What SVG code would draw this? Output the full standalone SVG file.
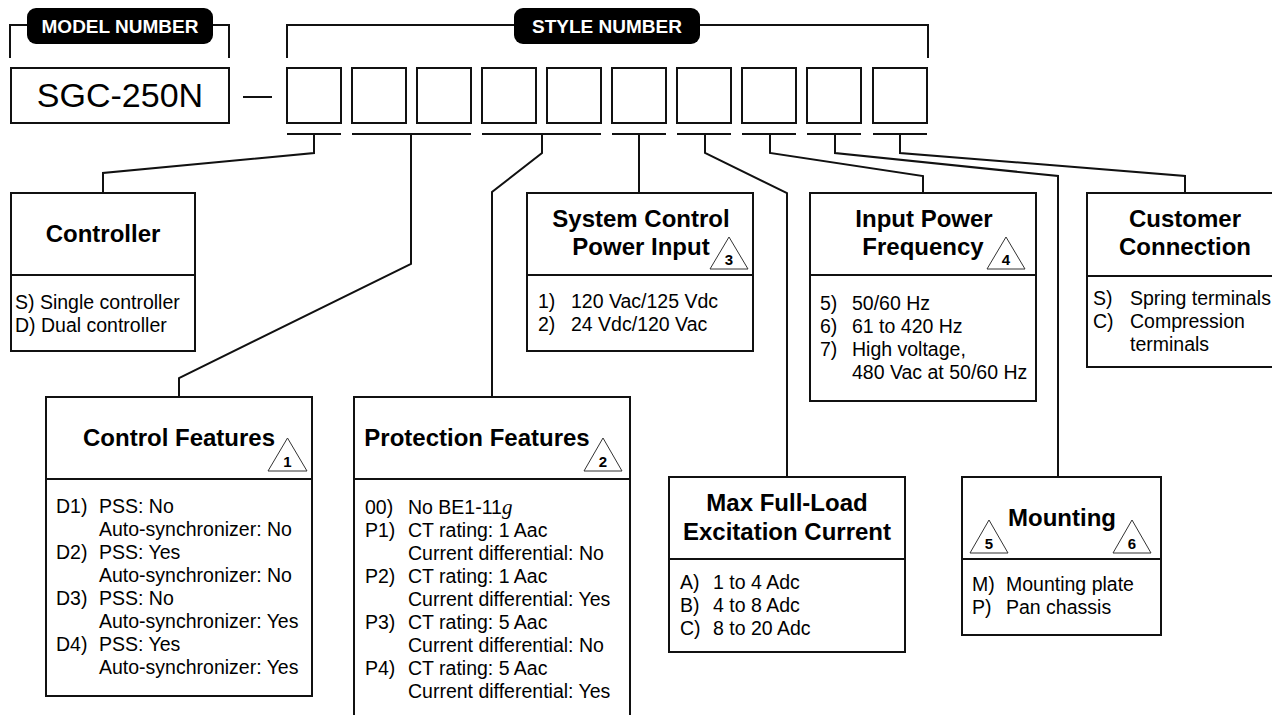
<svg xmlns="http://www.w3.org/2000/svg" width="1272" height="715" viewBox="0 0 1272 715">
<style>
.bx{fill:#fff;stroke:#111;stroke-width:2}
.ln{fill:none;stroke:#111;stroke-width:2}
.tri{fill:#fff;stroke:#333;stroke-width:1}
.pill{fill:#000}
.pt{font-family:"Liberation Sans",Arial,sans-serif;font-weight:bold;font-size:19px;fill:#fff;text-anchor:middle}
.ttl{font-family:"Liberation Sans",Arial,sans-serif;font-weight:bold;font-size:24px;fill:#000;text-anchor:middle}
.it{font-family:"Liberation Sans",Arial,sans-serif;font-size:19.5px;fill:#000}
.num{font-family:"Liberation Sans",Arial,sans-serif;font-weight:bold;font-size:15px;fill:#000;text-anchor:middle}
.big{font-family:"Liberation Sans",Arial,sans-serif;font-size:34px;fill:#000;text-anchor:middle}
</style>
<rect width="1272" height="715" fill="#fff"/>

<g id="model-number">
  <path class="ln" d="M10,58 V25 H30 M210,25 H229 V58"/>
  <rect class="pill" x="27" y="8" width="186" height="36" rx="9"/>
  <text class="pt" x="120" y="33">MODEL NUMBER</text>
  <rect class="bx" x="11" y="68" width="218" height="55"/>
  <text class="big" x="120" y="107">SGC-250N</text>
  <line class="ln" x1="243" y1="97" x2="272" y2="97"/>
</g>

<g id="style-number">
  <path class="ln" d="M287,58 V25 H520 M695,25 H928 V58"/>
  <rect class="pill" x="514" y="8" width="186" height="36" rx="9"/>
  <text class="pt" x="607" y="33">STYLE NUMBER</text>
  <rect class="bx" x="287" y="68" width="54" height="55"/>
  <rect class="bx" x="352" y="68" width="54" height="55"/>
  <rect class="bx" x="417" y="68" width="54" height="55"/>
  <rect class="bx" x="482" y="68" width="54" height="55"/>
  <rect class="bx" x="547" y="68" width="54" height="55"/>
  <rect class="bx" x="612" y="68" width="54" height="55"/>
  <rect class="bx" x="677" y="68" width="54" height="55"/>
  <rect class="bx" x="742" y="68" width="54" height="55"/>
  <rect class="bx" x="807" y="68" width="54" height="55"/>
  <rect class="bx" x="873" y="68" width="54" height="55"/>
  <path class="ln" d="M287,134 H341 M352,134 H471 M482,134 H601 M612,134 H666 M677,134 H731 M742,134 H796 M807,134 H861 M873,134 H927"/>
</g>

<g id="connectors">
  <path class="ln" d="M314,134 V153 L103,173 V193"/>
  <path class="ln" d="M411,134 V264 L179,378 V397"/>
  <path class="ln" d="M542,134 V153 L492,192 V397"/>
  <path class="ln" d="M639,134 V193"/>
  <path class="ln" d="M705,134 V153 L787,193 V477"/>
  <path class="ln" d="M770,134 V153 L923,176 V193"/>
  <path class="ln" d="M835,134 V153 L1058,176 V477"/>
  <path class="ln" d="M900,134 V153 L1185,176 V193"/>
</g>

<g id="controller">
  <rect class="bx" x="11" y="193" width="184" height="158"/>
  <line class="ln" x1="11" y1="275" x2="195" y2="275"/>
  <text class="ttl" x="103" y="242">Controller</text>
  <text class="it" x="15" y="309">S) Single controller</text>
  <text class="it" x="15" y="332">D) Dual controller</text>
</g>

<g id="control-features">
  <rect class="bx" x="46" y="397" width="266" height="299"/>
  <line class="ln" x1="46" y1="479" x2="312" y2="479"/>
  <text class="ttl" x="179" y="446">Control Features</text>
  <polygon class="tri" points="268,471 287.5,438 307,471"/>
  <text class="num" x="287.5" y="467">1</text>
  <g class="it">
    <text x="56" y="513">D1)</text><text x="99" y="513">PSS: No</text>
    <text x="99" y="536">Auto-synchronizer: No</text>
    <text x="56" y="559">D2)</text><text x="99" y="559">PSS: Yes</text>
    <text x="99" y="582">Auto-synchronizer: No</text>
    <text x="56" y="605">D3)</text><text x="99" y="605">PSS: No</text>
    <text x="99" y="628">Auto-synchronizer: Yes</text>
    <text x="56" y="651">D4)</text><text x="99" y="651">PSS: Yes</text>
    <text x="99" y="674">Auto-synchronizer: Yes</text>
  </g>
</g>

<g id="protection-features">
  <rect class="bx" x="354" y="397" width="276" height="330"/>
  <line class="ln" x1="354" y1="479" x2="630" y2="479"/>
  <text class="ttl" x="477" y="446">Protection Features</text>
  <polygon class="tri" points="584,471 603,438 622,471"/>
  <text class="num" x="603" y="467">2</text>
  <g class="it">
    <text x="365" y="514">00)</text><text x="408" y="514">No BE1-11<tspan font-family="'Liberation Serif',serif" font-style="italic" font-size="21px">g</tspan></text>
    <text x="365" y="537">P1)</text><text x="408" y="537">CT rating: 1 Aac</text>
    <text x="408" y="560">Current differential: No</text>
    <text x="365" y="583">P2)</text><text x="408" y="583">CT rating: 1 Aac</text>
    <text x="408" y="606">Current differential: Yes</text>
    <text x="365" y="629">P3)</text><text x="408" y="629">CT rating: 5 Aac</text>
    <text x="408" y="652">Current differential: No</text>
    <text x="365" y="675">P4)</text><text x="408" y="675">CT rating: 5 Aac</text>
    <text x="408" y="698">Current differential: Yes</text>
  </g>
</g>

<g id="system-control-power-input">
  <rect class="bx" x="527" y="193" width="226" height="158"/>
  <line class="ln" x1="527" y1="275" x2="753" y2="275"/>
  <text class="ttl" x="641" y="227">System Control</text>
  <text class="ttl" x="641" y="255">Power Input</text>
  <polygon class="tri" points="710,269 729,237 748,269"/>
  <text class="num" x="729" y="265">3</text>
  <text class="it" x="538" y="308">1)</text><text class="it" x="571" y="308">120 Vac/125 Vdc</text>
  <text class="it" x="538" y="331">2)</text><text class="it" x="571" y="331">24 Vdc/120 Vac</text>
</g>

<g id="input-power-frequency">
  <rect class="bx" x="810" y="193" width="226" height="208"/>
  <line class="ln" x1="810" y1="275" x2="1036" y2="275"/>
  <text class="ttl" x="924" y="227">Input Power</text>
  <text class="ttl" x="923" y="255">Frequency</text>
  <polygon class="tri" points="987,269 1006,237 1025,269"/>
  <text class="num" x="1006" y="265">4</text>
  <text class="it" x="820" y="310">5)</text><text class="it" x="852" y="310">50/60 Hz</text>
  <text class="it" x="820" y="333">6)</text><text class="it" x="852" y="333">61 to 420 Hz</text>
  <text class="it" x="820" y="356">7)</text><text class="it" x="852" y="356">High voltage,</text>
  <text class="it" x="852" y="379">480 Vac at 50/60 Hz</text>
</g>

<g id="customer-connection">
  <rect class="bx" x="1087" y="193" width="200" height="174"/>
  <line class="ln" x1="1087" y1="276" x2="1287" y2="276"/>
  <text class="ttl" x="1185" y="227">Customer</text>
  <text class="ttl" x="1185" y="255">Connection</text>
  <text class="it" x="1093" y="305">S)</text><text class="it" x="1130" y="305">Spring terminals</text>
  <text class="it" x="1093" y="328">C)</text><text class="it" x="1130" y="328">Compression</text>
  <text class="it" x="1130" y="351">terminals</text>
</g>

<g id="max-full-load-excitation-current">
  <rect class="bx" x="669" y="477" width="236" height="175"/>
  <line class="ln" x1="669" y1="559" x2="905" y2="559"/>
  <text class="ttl" x="787" y="511">Max Full-Load</text>
  <text class="ttl" x="787" y="540">Excitation Current</text>
  <text class="it" x="680" y="589">A)</text><text class="it" x="713" y="589">1 to 4 Adc</text>
  <text class="it" x="680" y="612">B)</text><text class="it" x="713" y="612">4 to 8 Adc</text>
  <text class="it" x="680" y="635">C)</text><text class="it" x="713" y="635">8 to 20 Adc</text>
</g>

<g id="mounting">
  <rect class="bx" x="962" y="477" width="199" height="158"/>
  <line class="ln" x1="962" y1="559" x2="1161" y2="559"/>
  <text class="ttl" x="1062" y="526">Mounting</text>
  <polygon class="tri" points="970,553 989,520 1008,553"/>
  <text class="num" x="989" y="549">5</text>
  <polygon class="tri" points="1113,553 1132,520 1151,553"/>
  <text class="num" x="1132" y="549">6</text>
  <text class="it" x="972" y="591">M)</text><text class="it" x="1006" y="591">Mounting plate</text>
  <text class="it" x="972" y="614">P)</text><text class="it" x="1006" y="614">Pan chassis</text>
</g>
</svg>
